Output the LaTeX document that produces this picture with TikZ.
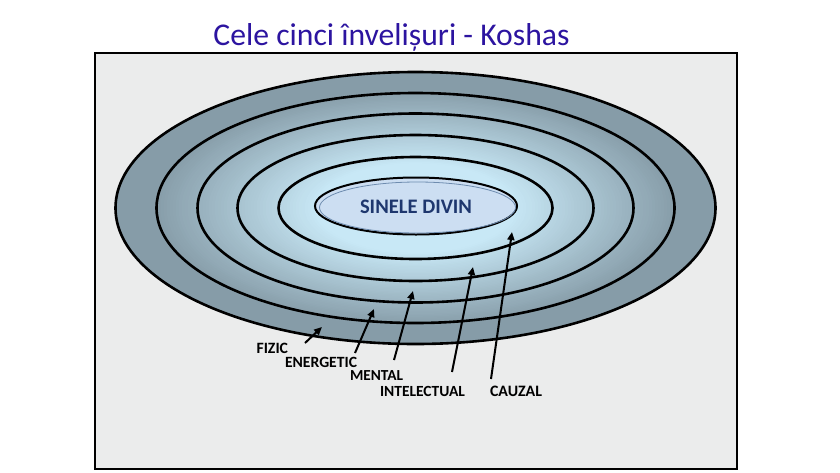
\documentclass[tikz,border=0pt]{standalone}
\usepackage{fontspec}
\usepackage{graphicx}
\setmainfont{Carlito}
\usetikzlibrary{arrows.meta,shapes.geometric}
\definecolor{titleblue}{RGB}{44,20,160}
\definecolor{framebg}{RGB}{235,236,236}
\definecolor{selffill}{RGB}{204,222,242}
\definecolor{selfline}{RGB}{110,140,175}
\definecolor{selftext}{RGB}{30,55,110}
\definecolor{ringout}{RGB}{134,156,168}
\definecolor{ringin}{RGB}{200,232,246}
\tikzset{
  ring/.style={draw=black,line width=2.6pt},
  arr/.style={draw=black,line width=2pt,-{Triangle[length=8pt,width=7pt]}},
  lbl/.style={font=\bfseries,text=black,inner sep=0pt}
}
\begin{document}
\begin{tikzpicture}[x=1pt,y=1pt]
\useasboundingbox (0,0) rectangle (840,-472);
\fill[white] (0,0) rectangle (840,-472);
% frame
\draw[line width=2pt,fill=framebg] (95,-53) rectangle (737,-469);
% title
\node[text=titleblue,anchor=base,inner sep=0pt] (title) at (391.5,-45.5)
  {\resizebox{356pt}{!}{Cele cinci învelișuri - Koshas}};
% rings
\coordinate (c) at (415.5,-208);
\foreach \i in {100,99,...,30}{
  \pgfmathtruncatemacro{\p}{max(0,min(100,(88-\i)/55*100))}
  \fill[ringin!\p!ringout] (c) ellipse [x radius={3*\i pt},y radius={1.36*\i pt}];
}
\draw[ring] (c) ellipse [x radius=300pt,y radius=136pt];
\draw[ring] (c) ellipse [x radius=259pt,y radius=115pt];
\draw[ring] (c) ellipse [x radius=218pt,y radius=94.5pt];
\draw[ring] (c) ellipse [x radius=178pt,y radius=73pt];
\draw[ring] (c) ellipse [x radius=137pt,y radius=51pt];
% inner self
\draw[line width=2pt,fill=selffill] (416,-206) ellipse [x radius=101pt,y radius=28.5pt];
\draw[line width=0.8pt,draw=selfline] (417.5,-207.5) ellipse [x radius=98pt,y radius=25.5pt];
\node[text=selftext,inner sep=0pt] (self) at (416,-206.5) {\resizebox{112pt}{!}{\bfseries SINELE DIVIN}};
% labels
\node[lbl] (fizic) at (272.3,-348) {\resizebox{31.5pt}{!}{FIZIC}};
\node[lbl] (energetic) at (321,-362.5) {\resizebox{72pt}{!}{ENERGETIC}};
\node[lbl] (mental) at (376.5,-376) {\resizebox{53pt}{!}{MENTAL}};
\node[lbl] (intelectual) at (422.5,-391) {\resizebox{85pt}{!}{INTELECTUAL}};
\node[lbl] (cauzal) at (516,-391) {\resizebox{52pt}{!}{CAUZAL}};
% arrow ends
\coordinate (fS) at (305,-343);  \coordinate (fT) at (322,-327);
\coordinate (eS) at (355,-353);  \coordinate (eT) at (374,-309);
\coordinate (mS) at (394,-360);  \coordinate (mT) at (413,-291);
\coordinate (iS) at (452,-372);  \coordinate (iT) at (473,-267);
\coordinate (kS) at (491,-379);  \coordinate (kT) at (512,-232);
\draw[arr] (fS) -- (fT);
\draw[arr] (eS) -- (eT);
\draw[arr] (mS) -- (mT);
\draw[arr] (iS) -- (iT);
\draw[arr] (kS) -- (kT);
\end{tikzpicture}
\end{document}
